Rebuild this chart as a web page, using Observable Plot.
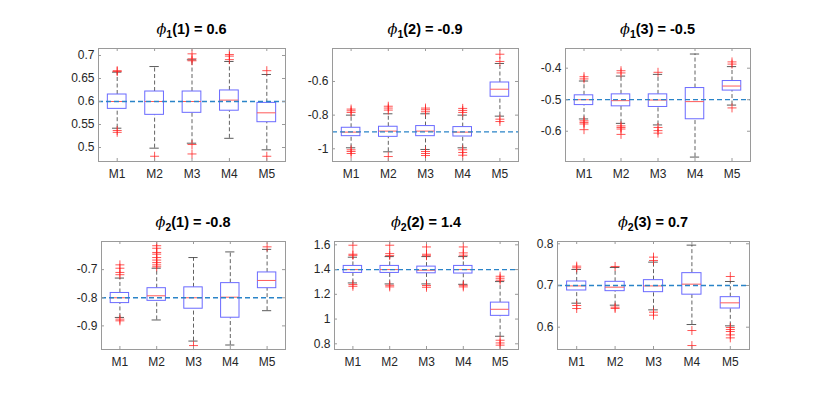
<!DOCTYPE html>
<html><head><meta charset="utf-8">
<script src="https://cdn.jsdelivr.net/npm/d3@7"></script>
<script src="https://cdn.jsdelivr.net/npm/@observablehq/plot@0.6"></script>
<style>
body{margin:0;background:#fff;}
#chart{position:relative;width:830px;height:395px;background:#fff;overflow:hidden;font-family:"Liberation Sans",Arial,Helvetica,sans-serif;}
.panel{position:absolute;}
.title{position:absolute;text-align:center;font-weight:bold;font-size:14.5px;color:#000;white-space:nowrap;line-height:17px;}
.title i{font-family:"DejaVu Serif",serif;font-weight:normal;font-style:italic;}
.title sub{font-size:10.5px;vertical-align:-4px;line-height:0;}
</style></head><body><div id="chart"></div>
<script>
const categories = ["M1", "M2", "M3", "M4", "M5"];

// titles: phi_{sub}(arg) = truth
const titleSub = ["1", "1", "1", "2", "2", "2"];
const titleArg = ["1", "2", "3", "1", "2", "3"];
const trueValues = [0.6, -0.9, -0.5, -0.8, 1.4, 0.7];

// axis limits and tick labels
const yLimits = [[0.4696, 0.7152], [-1.0755, -0.404], [-0.696, -0.3375], [-0.984, -0.6], [0.754, 1.627], [0.5465, 0.8055]];
const yTicks = [[0.5, 0.55, 0.6, 0.65, 0.7], [-1, -0.8, -0.6], [-0.6, -0.5, -0.4], [-0.9, -0.8, -0.7], [0.8, 1, 1.2, 1.4, 1.6], [0.6, 0.7, 0.8]];

// panel 1: phi_1(1)
const p1Low = [0.542, 0.4986, 0.5094, 0.520, 0.495];
const p1Q1 = [0.584, 0.571, 0.5754, 0.580, 0.555];
const p1Median = [0.600, 0.600, 0.600, 0.603, 0.5754];
const p1Q3 = [0.6152, 0.6217, 0.6217, 0.624, 0.597];
const p1High = [0.6638, 0.676, 0.6906, 0.687, 0.6587];
const p1Outliers = [[0.667, 0.665, 0.537, 0.533], [0.481], [0.7036, 0.6928, 0.6885, 0.5065, 0.486], [0.702, 0.6986, 0.691], [0.667, 0.481]];

// panel 2: phi_1(2)
const p2Low = [-0.994, -1.018, -1.004, -0.994, -0.806];
const p2Q1 = [-0.925, -0.929, -0.925, -0.927, -0.691];
const p2Median = [-0.901, -0.895, -0.895, -0.901, -0.646];
const p2Q3 = [-0.875, -0.869, -0.865, -0.871, -0.606];
const p2High = [-0.800, -0.792, -0.792, -0.800, -0.493];
const p2Outliers = [[-0.764, -0.774, -0.784, -1.006, -1.016, -1.028], [-0.747, -0.758, -0.770, -1.046], [-0.758, -0.768, -0.780, -1.016, -1.028, -1.040], [-0.760, -0.772, -0.784, -1.006, -1.022, -1.038], [-0.438, -0.481, -0.824, -0.838]];

// panel 3: phi_1(3)
const p3Low = [-0.561, -0.575, -0.580, -0.682, -0.517];
const p3Q1 = [-0.517, -0.521, -0.523, -0.562, -0.471];
const p3Median = [-0.500, -0.503, -0.501, -0.506, -0.4566];
const p3Q3 = [-0.486, -0.483, -0.483, -0.463, -0.4407];
const p3High = [-0.4407, -0.425, -0.4196, -0.355, -0.395];
const p3Outliers = [[-0.427, -0.434, -0.567, -0.572, -0.577, -0.595], [-0.408, -0.415, -0.583, -0.588, -0.593, -0.610], [-0.413, -0.588, -0.598, -0.606], [], [-0.380, -0.387, -0.526]];

// panel 4: phi_2(1)
const p4Low = [-0.870, -0.879, -0.954, -0.968, -0.846];
const p4Q1 = [-0.819, -0.811, -0.839, -0.871, -0.766];
const p4Median = [-0.800, -0.793, -0.800, -0.798, -0.7385];
const p4Q3 = [-0.783, -0.766, -0.763, -0.748, -0.710];
const p4High = [-0.730, -0.695, -0.657, -0.637, -0.628];
const p4Outliers = [[-0.683, -0.695, -0.710, -0.718, -0.876, -0.882], [-0.615, -0.624, -0.639, -0.645, -0.657, -0.666, -0.675, -0.683, -0.690], [-0.970], [], [-0.619]];

// panel 5: phi_2(2)
const p5Low = [1.292, 1.284, 1.284, 1.281, 0.861];
const p5Q1 = [1.373, 1.373, 1.370, 1.368, 1.026];
const p5Median = [1.400, 1.400, 1.395, 1.400, 1.079];
const p5Q3 = [1.4296, 1.4296, 1.424, 1.4296, 1.133];
const p5High = [1.500, 1.505, 1.505, 1.505, 1.303];
const p5Outliers = [[1.597, 1.524, 1.515, 1.279, 1.265], [1.597, 1.529, 1.513, 1.273, 1.260], [1.583, 1.524, 1.512, 1.271, 1.257], [1.583, 1.535, 1.516, 1.273, 1.260], [1.346, 1.330, 1.314, 0.829, 0.807, 0.789]];

// panel 6: phi_2(3)
const p6Low = [0.6576, 0.6528, 0.6416, 0.6064, 0.6032];
const p6Q1 = [0.688, 0.6864, 0.684, 0.678, 0.6448];
const p6Median = [0.699, 0.696, 0.699, 0.7032, 0.6584];
const p6Q3 = [0.7096, 0.7088, 0.7128, 0.7296, 0.672];
const p6High = [0.7384, 0.7432, 0.756, 0.7968, 0.7096];
const p6Outliers = [[0.7464, 0.7424, 0.652, 0.6448], [0.7456, 0.648, 0.6448], [0.768, 0.760, 0.636, 0.6288], [0.592, 0.556], [0.7216, 0.5992, 0.5944, 0.5896, 0.5816, 0.5744]];

const lows = [p1Low, p2Low, p3Low, p4Low, p5Low, p6Low];
const q1s = [p1Q1, p2Q1, p3Q1, p4Q1, p5Q1, p6Q1];
const medians = [p1Median, p2Median, p3Median, p4Median, p5Median, p6Median];
const q3s = [p1Q3, p2Q3, p3Q3, p4Q3, p5Q3, p6Q3];
const highs = [p1High, p2High, p3High, p4High, p5High, p6High];
const outliers = [p1Outliers, p2Outliers, p3Outliers, p4Outliers, p5Outliers, p6Outliers];

// layout: plot frame [left, top, right, bottom] in page pixels
const frames = [[98, 48, 285, 161], [332, 48, 518, 161], [565, 48, 750, 161], [101, 241, 285, 349], [334, 241, 518, 349], [557, 241, 749, 349]];

const chart = document.getElementById("chart");
const mL = 45, mR = 6, mT = 6, mB = 26;
const grey = "#9a9a9a";

for (let k = 0; k < 6; k++) {
  const [x0, y0, x1, y1] = frames[k];
  const fw = x1 - x0, fh = y1 - y0;
  const boxes = categories.map((c, i) => ({i: i + 1, lo: lows[k][i], q1: q1s[k][i], med: medians[k][i], q3: q3s[k][i], hi: highs[k][i]}));
  const outs = categories.flatMap((c, i) => outliers[k][i].map(v => ({i: i + 1, v})));
  const xTicks = categories.map((c, i) => i + 1);
  const svg = Plot.plot({
    width: fw + mL + mR,
    height: fh + mT + mB,
    marginLeft: mL, marginRight: mR, marginTop: mT, marginBottom: mB,
    style: {fontSize: "12px", fontFamily: "'Liberation Sans', Arial, Helvetica, sans-serif", color: "#262626", background: "transparent", overflow: "visible"},
    x: {domain: [0.5, categories.length + 0.5], ticks: xTicks, tickFormat: d => categories[d - 1], tickSize: 0, tickPadding: 8, label: null},
    y: {domain: yLimits[k], ticks: yTicks[k], tickFormat: d => String(d), tickSize: 0, tickPadding: 4, label: null},
    marks: [
      Plot.ruleX(boxes, {x: "i", y1: "q3", y2: "hi", stroke: "#3a3a3a", strokeWidth: 0.8, strokeDasharray: "4,2.5"}),
      Plot.ruleX(boxes, {x: "i", y1: "lo", y2: "q1", stroke: "#3a3a3a", strokeWidth: 0.8, strokeDasharray: "4,2.5"}),
      Plot.ruleY(boxes, {y: "hi", x1: d => d.i - 0.125, x2: d => d.i + 0.125, stroke: "#4a4a4a", strokeWidth: 0.9}),
      Plot.ruleY(boxes, {y: "lo", x1: d => d.i - 0.125, x2: d => d.i + 0.125, stroke: "#4a4a4a", strokeWidth: 0.9}),
      Plot.rect(boxes, {x1: d => d.i - 0.25, x2: d => d.i + 0.25, y1: "q1", y2: "q3", fill: "white", stroke: "#6a6aff", strokeWidth: 1}),
      Plot.ruleY(boxes, {y: "med", x1: d => d.i - 0.25, x2: d => d.i + 0.25, stroke: "#ff5a5a", strokeWidth: 1}),
      Plot.dot(outs, {x: "i", y: "v", symbol: "plus", r: 3, stroke: "#ff2020", strokeWidth: 0.9, strokeOpacity: 0.85}),
      Plot.ruleY([trueValues[k]], {stroke: "#2a84c8", strokeWidth: 1.3, strokeDasharray: "5,3"}),
      Plot.frame({stroke: grey, strokeWidth: 1}),
      Plot.tickX(xTicks, {x: d => d, insetTop: fh - 3, stroke: grey}),
      Plot.tickX(xTicks, {x: d => d, insetBottom: fh - 3, stroke: grey}),
      Plot.tickY(yTicks[k], {y: d => d, insetRight: fw - 3, stroke: grey}),
      Plot.tickY(yTicks[k], {y: d => d, insetLeft: fw - 3, stroke: grey})
    ]
  });
  const wrap = document.createElement("div");
  wrap.className = "panel";
  wrap.style.left = (x0 - mL) + "px";
  wrap.style.top = (y0 - mT) + "px";
  wrap.appendChild(svg);
  chart.appendChild(wrap);

  const t = document.createElement("div");
  t.className = "title";
  t.style.left = x0 + "px";
  t.style.width = fw + "px";
  t.style.top = (y0 - 27) + "px";
  t.innerHTML = `<i>ϕ</i><sub>${titleSub[k]}</sub>(${titleArg[k]}) = ${trueValues[k]}`;
  chart.appendChild(t);
}
</script>
</body></html>
